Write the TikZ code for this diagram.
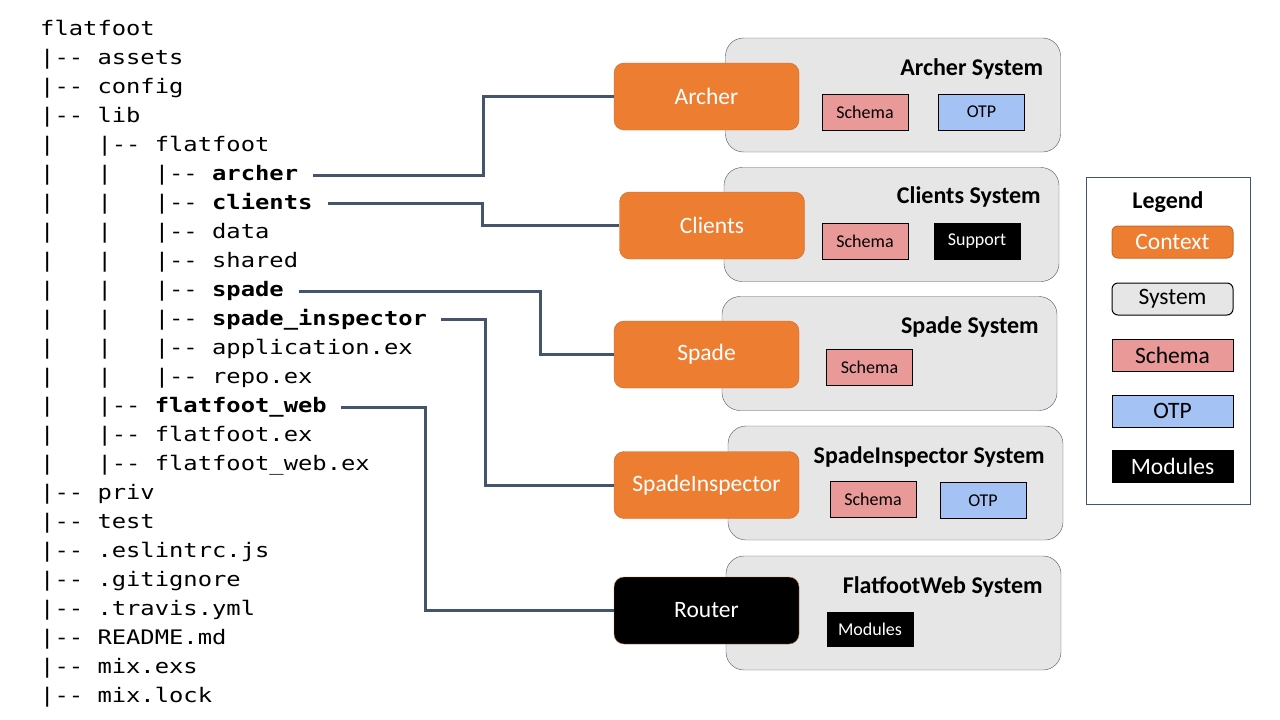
\documentclass[tikz,border=0pt]{standalone}
\usepackage{fontspec}
\setmainfont{Carlito}
\setsansfont{Carlito}
\setmonofont[FakeStretch=1.19]{DejaVu Sans Mono}
\usetikzlibrary{calc}
\definecolor{ctxorange}{HTML}{ED7D31}
\definecolor{sysgray}{HTML}{E7E6E6}
\definecolor{schemapink}{HTML}{EA9999}
\definecolor{otpblue}{HTML}{A4C2F4}
\definecolor{edgeblue}{HTML}{44546A}
\def\lvl{|~~~}
\def\big{\fontsize{23.5}{27}\selectfont}
\def\small{\fontsize{18}{21}\selectfont}
\tikzset{
  ctx/.style={rounded corners=10pt,fill=ctxorange,draw=ctxorange!85!black,text=white,
    minimum width=185pt,minimum height=67pt,font=\big},
  sys/.style={rounded corners=18pt,fill=sysgray,draw=edgeblue,minimum width=335pt,minimum height=114pt},
  systitle/.style={anchor=east,font=\bfseries\fontsize{24}{27}\selectfont},
  tag/.style={draw=black,line width=1pt,minimum width=86pt,minimum height=36pt,font=\small},
  legitem/.style={draw=black,line width=1pt,minimum width=121pt,minimum height=32pt,font=\big},
  conn/.style={draw=edgeblue,line width=3pt},
}
\begin{document}
\begin{tikzpicture}[x=1pt,y=-1pt]
\useasboundingbox (0,0) rectangle (1280,720);
% file tree
\foreach \i/\s in {0/flatfoot,1/|--~assets,2/|--~config,3/|--~lib,4/\lvl|--~flatfoot,
  5/\lvl\lvl|--~\textbf{archer},6/\lvl\lvl|--~\textbf{clients},7/\lvl\lvl|--~data,
  8/\lvl\lvl|--~shared,9/\lvl\lvl|--~\textbf{spade},10/\lvl\lvl|--~\textbf{spade\_inspector},
  11/\lvl\lvl|--~application.ex,12/\lvl\lvl|--~repo.ex,13/\lvl|--~\textbf{flatfoot\_web},
  14/\lvl|--~flatfoot.ex,15/\lvl|--~flatfoot\_web.ex,16/|--~priv,17/|--~test,
  18/|--~.eslintrc.js,19/|--~.gitignore,20/|--~.travis.yml,21/|--~README.md,
  22/|--~mix.exs,23/|--~mix.lock}
  \node[anchor=base west,inner sep=0pt,font=\ttfamily\fontsize{20}{24}\selectfont] (t\i) at (40,35.5+29*\i) {\s};

% systems
\node[sys] (archersys) at (893,95) {};
\node[sys] (clientssys) at (891.5,224.5) {};
\node[sys] (spadesys) at (889.5,353.5) {};
\node[sys] (inspsys) at (895.5,483) {};
\node[sys] (websys) at (893.5,613) {};
\node[systitle] (archertitle) at ([xshift=-14pt,yshift=-31pt]archersys.north east) {Archer System};
\node[systitle] (clientstitle) at ([xshift=-15pt,yshift=-30pt]clientssys.north east) {Clients System};
\node[systitle] (spadetitle) at ([xshift=-15pt,yshift=-31pt]spadesys.north east) {Spade System};
\node[systitle] (insptitle) at ([xshift=-15pt,yshift=-31pt]inspsys.north east) {SpadeInspector System};
\node[systitle] (webtitle) at ([xshift=-15pt,yshift=-31pt]websys.north east) {FlatfootWeb System};
\node[tag,fill=schemapink] (archerschema) at (865,112) {Schema};
\node[tag,fill=otpblue] (archerotp) at (981.5,112) {OTP};
\node[tag,fill=schemapink] (clientsschema) at (865,241) {Schema};
\node[tag,fill=black,text=white] (clientssupport) at (977,241) {Support};
\node[tag,fill=schemapink] (spadeschema) at (869.5,367) {Schema};
\node[tag,fill=schemapink] (inspschema) at (873,499.5) {Schema};
\node[tag,fill=otpblue] (inspotp) at (983,500.5) {OTP};
\node[tag,fill=black,text=white,minimum height=34pt] (webmodules) at (870,629) {Modules};

% contexts
\node[ctx] (archer) at (706.5,96.5) {Archer};
\node[ctx] (clients) at (712,225.5) {Clients};
\node[ctx] (spade) at (706.5,354.5) {Spade};
\node[ctx] (insp) at (706.5,485) {SpadeInspector};
\node[ctx,fill=black] (router) at (706.5,610.5) {Router};

% connectors
\draw[conn] ([xshift=15pt]t5.east) -- ++(170,0) |- (archer.west);
\draw[conn] ([xshift=15pt]t6.east) -- ++(155,0) |- (clients.west);
\draw[conn] ([xshift=15pt]t9.east) -- ++(242,0) |- (spade.west);
\draw[conn] ([xshift=14pt]t10.east) -- ++(44,0) |- (insp.west);
\draw[conn] ([xshift=14pt]t13.east) -- ++(85,0) |- (router.west);

% legend
\node[draw=edgeblue,line width=1pt,minimum width=164pt,minimum height=327pt] (legend) at (1168,340.5) {};
\node[font=\bfseries\fontsize{24}{27}\selectfont] (legtitle) at (1168,202) {Legend};
\node[legitem,rounded corners=6pt,fill=ctxorange,draw=ctxorange!85!black,text=white] (legctx) at (1172.5,242) {Context};
\node[legitem,rounded corners=6pt,fill=sysgray] (legsys) at (1172.5,299) {System};
\node[legitem,fill=schemapink] (legschema) at (1172.5,355) {Schema};
\node[legitem,fill=otpblue] (legotp) at (1172.5,411) {OTP};
\node[legitem,fill=black,text=white] (legmod) at (1172.5,466) {Modules};
\end{tikzpicture}
\end{document}
